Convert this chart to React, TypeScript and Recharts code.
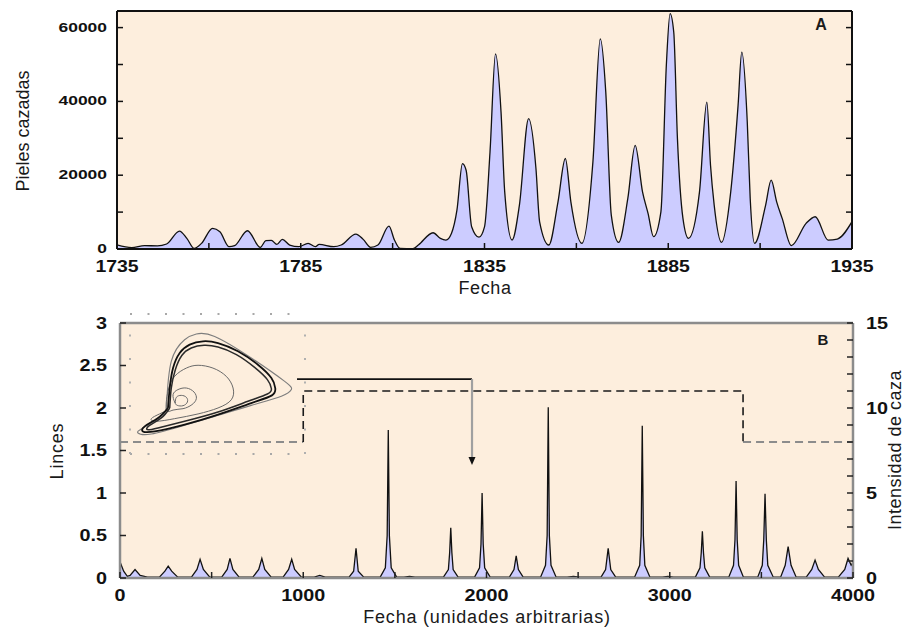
import React from "react";
import {
  ComposedChart,
  LineChart,
  Area,
  Line,
  XAxis,
  YAxis,
  CartesianGrid,
  ReferenceLine,
  ReferenceDot,
} from "recharts";

// ---- Panel A: pieles de lince cazadas (1735-1935) ----
const anios = [
  1735, 1739, 1742.5, 1746, 1748.5, 1752, 1754, 1756, 1758, 1761, 1763, 1765.5,
  1767, 1770.5, 1774, 1775.5, 1777, 1778.5, 1780, 1782, 1784.5, 1787, 1789, 1790,
  1794, 1796, 1800, 1802, 1804, 1806, 1809, 1810.5, 1812, 1815.5, 1817, 1821,
  1823, 1824.5, 1826, 1827.5, 1829, 1830, 1831.5, 1833.5, 1835, 1836.5, 1838,
  1839.5, 1840.5, 1842.5, 1844.5, 1847, 1849, 1850, 1852.5, 1855, 1857, 1858.5,
  1861.5, 1864.5, 1866.5, 1868, 1869.5, 1871.5, 1874, 1876, 1878, 1879.5, 1881,
  1883, 1884.5, 1885.5, 1886.5, 1887.5, 1889, 1890.5, 1893.5, 1895.5, 1896.5,
  1897.5, 1899.5, 1902, 1904, 1905, 1906.5, 1907.3, 1908.5, 1911.5, 1913, 1914.5,
  1916, 1918.5, 1922.5, 1925, 1928.5, 1931, 1935,
];
const pieles = [
  1100, 350, 900, 850, 1350, 4860, 2880, 180, 1530, 5590, 4680, 630,
  900, 4950, 450, 2250, 2340, 1260, 2610, 1080, 630, 1530, 630, 1260,
  630, 1080, 4050, 2610, 450, 1080, 6220, 2430, 180, 100, 1080, 4410,
  2880, 2430, 4230, 10540, 23160, 21350, 6030, 3200, 6000, 26300, 52900,
  37100, 15490, 2430, 11890, 35330, 21810, 7380, 1080, 12790, 24520, 12790,
  1530, 23600, 56950, 42520, 9190, 1800, 13700, 28110, 15490, 9650, 3330,
  10080, 50190, 63800, 58740, 29920, 8300, 2890, 15490, 39820, 22700,
  11890, 1800, 15490, 38920, 53330, 34410, 13700, 1530, 11890, 18650, 12790,
  8300, 900, 6950, 8740, 2430, 2700, 7400,
];
const ticksAnio = [1735, 1760, 1785, 1810, 1835, 1860, 1885, 1910, 1935];
const ticksPieles = [0, 10000, 20000, 30000, 40000, 50000, 60000];

// ---- Panel B: modelo (unidades arbitrarias) ----
const lincesB: [number, number][] = [
  [0, 0.19], [20, 0.08], [40, 0.02], [55, 0.03], [82, 0.1], [110, 0.03], [150, 0.01],
  [215, 0.01], [245, 0.08], [263, 0.14], [282, 0.08], [315, 0.01],
  [390, 0.01], [420, 0.1], [437, 0.22], [455, 0.1], [490, 0.01],
  [555, 0.01], [585, 0.1], [600, 0.23], [616, 0.1], [650, 0.01],
  [725, 0.01], [757, 0.1], [774, 0.23], [790, 0.1], [825, 0.01],
  [890, 0.01], [920, 0.1], [937, 0.22], [953, 0.1], [990, 0.01],
  [1060, 0.01], [1090, 0.03], [1120, 0.01],
  [1250, 0.01], [1275, 0.08], [1288, 0.35], [1300, 0.08], [1330, 0.01],
  [1420, 0.01], [1448, 0.12], [1458, 0.5], [1464, 1.74], [1470, 0.5], [1480, 0.12], [1510, 0.01],
  [1550, 0.01], [1580, 0.02], [1610, 0.01],
  [1765, 0.01], [1792, 0.1], [1799, 0.3], [1805, 0.59], [1811, 0.3], [1818, 0.1], [1845, 0.01],
  [1935, 0.01], [1962, 0.12], [1970, 0.4], [1976, 1.0], [1982, 0.4], [1990, 0.12], [2020, 0.01],
  [2125, 0.01], [2150, 0.1], [2162, 0.26], [2174, 0.1], [2200, 0.01],
  [2295, 0.01], [2322, 0.15], [2331, 0.5], [2337, 2.01], [2343, 0.5], [2352, 0.15], [2380, 0.01],
  [2440, 0.01], [2474, 0.02], [2510, 0.01],
  [2625, 0.01], [2650, 0.1], [2664, 0.35], [2678, 0.1], [2705, 0.01],
  [2808, 0.01], [2836, 0.15], [2844, 0.5], [2850, 1.79], [2856, 0.5], [2864, 0.15], [2892, 0.01],
  [2960, 0.01], [2990, 0.02], [3020, 0.01],
  [3140, 0.01], [3165, 0.12], [3172, 0.3], [3178, 0.55], [3184, 0.3], [3191, 0.12], [3218, 0.01],
  [3322, 0.01], [3348, 0.15], [3356, 0.45], [3362, 1.14], [3368, 0.45], [3376, 0.15], [3402, 0.01],
  [3480, 0.01], [3505, 0.15], [3513, 0.45], [3520, 0.99], [3527, 0.45], [3535, 0.15], [3565, 0.01],
  [3605, 0.01], [3630, 0.15], [3646, 0.37], [3662, 0.15], [3690, 0.01],
  [3745, 0.01], [3775, 0.1], [3793, 0.21], [3811, 0.1], [3845, 0.01],
  [3920, 0.01], [3955, 0.1], [3973, 0.23], [3990, 0.15], [4000, 0.18],
];
// intensidad de caza (eje derecho), escalones
const pasosX = [0, 1000, 1000, 3400, 3400, 4000];
const intensidad = [8, 8, 11, 11, 8, 8];
// flecha que une el recuadro con la serie
const flechaX = [966, 1921, 1921];
const flechaY = [2.34, 2.34, 1.4];
const puntaFlecha = { x: 1921, y: 1.33 };
const ticksFechaB = [0, 500, 1000, 1500, 2000, 2500, 3000, 3500, 4000];
const ticksLinces = [0, 0.5, 1, 1.5, 2, 2.5, 3];
const ticksCaza = [0, 1, 2, 3, 4, 5, 6, 7, 8, 9, 10, 11, 12, 13, 14, 15];

// ---- recuadro: plano de fases (liebres vs linces) ----
const transitorio: [number, number][] = [
  [25.9, 29.1], [26.5, 32.4], [29.3, 33.5], [32.2, 32.4], [32.8, 29.7], [30.3, 27.6], [27.0, 27.8],
  [25.5, 29.7], [24.6, 33.9], [27.4, 36.8], [32.2, 37.7], [36.6, 35.4], [37.9, 31.6], [35.4, 28.2],
  [30.3, 25.9], [24.6, 25.1], [20.8, 25.3],
  [21.7, 35.8], [25.5, 44.4], [32.2, 49.1], [38.9, 50.7], [47.4, 49.1], [55.0, 44.4], [58.9, 37.7],
  [57.9, 31.0], [50.3, 26.3], [38.9, 22.9], [25.5, 20.2], [15.0, 18.7], [12.2, 20.2], [16.9, 22.9],
  [21.7, 25.3],
];
const cicloLimite: [number, number][] = [
  [21.7, 26.3], [22.7, 37.7], [24.6, 49.1], [28.4, 57.7], [34.1, 62.5], [41.7, 64.4], [50.3, 63.4],
  [61.7, 58.7], [73.1, 51.0], [80.8, 43.4], [83.0, 37.7], [81.1, 33.5], [69.3, 29.1], [50.3, 22.5],
  [31.2, 16.8], [14.1, 12.9], [7.4, 12.9], [8.4, 15.8], [16.0, 20.6], [21.7, 26.3],
];
const cicloInterno: [number, number][] = [
  [22.7, 26.3], [23.6, 37.7], [25.9, 48.2], [29.7, 56.4], [35.0, 60.6], [42.3, 62.1], [50.3, 61.1],
  [60.8, 56.8], [71.2, 49.5], [78.5, 42.5], [80.8, 37.3], [78.5, 34.3], [67.4, 30.1], [50.3, 24.0],
  [31.2, 18.7], [16.0, 14.9], [9.9, 13.9], [11.2, 16.4], [17.9, 20.6], [22.7, 26.3],
];
const orbitaExterna: [number, number][] = [
  [20.8, 26.3], [23.6, 53.0], [31.2, 65.3], [37.9, 68.6], [48.4, 67.2], [69.3, 54.9], [88.4, 41.5],
  [92.2, 36.8], [86.5, 33.0], [69.3, 27.8], [50.3, 22.1], [31.2, 16.4], [12.2, 11.4], [4.6, 12.0],
  [7.4, 14.9], [17.9, 21.5], [20.8, 26.3],
];

const FONT = "'Liberation Sans', Arial, Helvetica, sans-serif";
const PEACH = "#fdeedd";
const LAVANDA = "#ccccff";

const dataA = anios.map((x, i) => ({ x, v: pieles[i] }));
const dataB = lincesB.map(([x, y]) => ({ x, y }));
const pasos = pasosX.map((x, i) => ({ x, v: intensidad[i] }));
const pasosGris = [pasos[0], pasos[1], { x: pasos[1].x, v: null }, pasos[4], pasos[5]];
const pasosNegro = pasos.slice(1, 5);
const flecha = flechaX.map((x, i) => ({ x, y: flechaY[i] }));
const pares = (arr: [number, number][]) => arr.map(([x, y]) => ({ x, y }));

const textWidth = (s: string, w: number) =>
  [...s].reduce((acc, ch) => acc + (ch === "." ? w * 0.5 : w), 0);

type TickCfg = {
  side: "left" | "right" | "top" | "bottom";
  len: number;
  color: string;
  label?: (v: number) => string | null;
  gap?: number;
  size?: number;
  charW?: number;
};

const makeTick = (cfg: TickCfg) => (props: any) => {
  const { x, y, payload } = props;
  const { side, len, color } = cfg;
  let line = { x1: x, y1: y, x2: x, y2: y - len };
  if (side === "left") line = { x1: x, y1: y, x2: x + len, y2: y };
  if (side === "right") line = { x1: x, y1: y, x2: x - len, y2: y };
  if (side === "top") line = { x1: x, y1: y, x2: x, y2: y + len };
  const txt = cfg.label ? cfg.label(payload.value) : null;
  const gap = cfg.gap ?? 0;
  let tx = x;
  let ty = y + gap;
  let anchor: "start" | "middle" | "end" = "middle";
  if (side === "left") {
    tx = x - gap;
    ty = y;
    anchor = "end";
  } else if (side === "right") {
    tx = x + gap;
    ty = y;
    anchor = "start";
  }
  return (
    <g>
      <line {...line} stroke={color} strokeWidth={1.5} />
      {txt !== null && (
        <text
          x={tx}
          y={ty}
          textAnchor={anchor}
          dominantBaseline="central"
          fontFamily={FONT}
          fontWeight="bold"
          fontSize={cfg.size}
          fill="#111"
          textLength={textWidth(txt, cfg.charW ?? 10)}
          lengthAdjust="spacingAndGlyphs"
        >
          {txt}
        </text>
      )}
    </g>
  );
};

const frameA = { stroke: "#111", strokeWidth: 2 };
const frameB = { stroke: "#8c8c8c", strokeWidth: 2.5 };

const titleStyle: React.CSSProperties = {
  position: "absolute",
  fontFamily: FONT,
  fontSize: 18,
  color: "#1a1a1a",
  whiteSpace: "nowrap",
  lineHeight: 1,
  transform: "translate(-50%, -50%)",
};

export default function App() {
  return (
    <div
      style={{
        position: "absolute",
        left: 0,
        top: 0,
        width: 915,
        height: 628,
        background: "#fff",
        overflow: "hidden",
      }}
    >
      {/* Panel A */}
      <div style={{ position: "absolute", left: 0, top: 0 }}>
        <ComposedChart width={915} height={300} margin={{ top: 10, right: 62, bottom: 21, left: 57 }}>
          <CartesianGrid horizontal={false} vertical={false} fill={PEACH} />
          <XAxis
            dataKey="x"
            type="number"
            domain={[1735, 1935]}
            ticks={ticksAnio}
            interval={0}
            height={30}
            tickSize={0}
            tickMargin={0}
            tickLine={false}
            axisLine={frameA}
            allowDataOverflow
            tick={makeTick({
              side: "bottom",
              len: 6,
              color: "#111",
              label: (v) => ((v - 1735) % 50 === 0 ? String(v) : null),
              gap: 17,
              size: 16,
              charW: 10.8,
            })}
          />
          <XAxis
            xAxisId="top"
            orientation="top"
            type="number"
            domain={[1735, 1935]}
            ticks={ticksAnio}
            interval={0}
            height={1}
            tickSize={0}
            tickMargin={0}
            tickLine={false}
            axisLine={frameA}
            allowDataOverflow
            tick={makeTick({ side: "top", len: 5, color: "#111" })}
          />
          <YAxis
            type="number"
            domain={[0, 64500]}
            ticks={ticksPieles}
            interval={0}
            width={60}
            tickSize={0}
            tickMargin={0}
            tickLine={false}
            axisLine={frameA}
            allowDataOverflow
            tick={makeTick({
              side: "left",
              len: 6,
              color: "#111",
              label: (v) => (v % 20000 === 0 ? String(v) : null),
              gap: 10,
              size: 12,
              charW: 9.7,
            })}
          />
          <YAxis
            yAxisId="right"
            orientation="right"
            type="number"
            domain={[0, 64500]}
            ticks={ticksPieles}
            interval={0}
            width={1}
            tickSize={0}
            tickMargin={0}
            tickLine={false}
            axisLine={frameA}
            allowDataOverflow
            tick={makeTick({ side: "right", len: 6, color: "#111" })}
          />
          <Area
            data={dataA}
            dataKey="v"
            type="monotone"
            stroke="#111"
            strokeWidth={1.3}
            fill={LAVANDA}
            fillOpacity={1}
            dot={false}
            activeDot={false}
            isAnimationActive={false}
          />
        </ComposedChart>
      </div>

      {/* Panel B */}
      <div style={{ position: "absolute", left: 0, top: 300 }}>
        <ComposedChart width={915} height={328} margin={{ top: 22, right: 61, bottom: 20, left: 60 }}>
          <CartesianGrid horizontal={false} vertical={false} fill={PEACH} />
          <XAxis
            dataKey="x"
            type="number"
            domain={[0, 4000]}
            ticks={ticksFechaB}
            interval={0}
            height={30}
            tickSize={0}
            tickMargin={0}
            tickLine={false}
            axisLine={frameB}
            allowDataOverflow
            tick={makeTick({
              side: "bottom",
              len: 6,
              color: "#222",
              label: (v) => (v % 1000 === 0 ? String(v) : null),
              gap: 17,
              size: 17,
              charW: 11,
            })}
          />
          <XAxis
            xAxisId="top"
            orientation="top"
            type="number"
            domain={[0, 4000]}
            ticks={ticksFechaB}
            interval={0}
            height={1}
            tickSize={0}
            tickMargin={0}
            tickLine={false}
            axisLine={frameB}
            allowDataOverflow
            tick={makeTick({ side: "top", len: 6, color: "#222" })}
          />
          <YAxis
            type="number"
            domain={[0, 3]}
            ticks={ticksLinces}
            interval={0}
            width={60}
            tickSize={0}
            tickMargin={0}
            tickLine={false}
            axisLine={frameB}
            allowDataOverflow
            tick={makeTick({
              side: "left",
              len: 6,
              color: "#222",
              label: (v) => String(v),
              gap: 13,
              size: 16,
              charW: 11,
            })}
          />
          <YAxis
            yAxisId="r"
            orientation="right"
            type="number"
            domain={[0, 15]}
            ticks={ticksCaza}
            interval={0}
            width={1}
            tickSize={0}
            tickMargin={0}
            tickLine={false}
            axisLine={frameB}
            allowDataOverflow
            tick={makeTick({
              side: "right",
              len: 6,
              color: "#222",
              label: (v) => (v % 5 === 0 ? String(v) : null),
              gap: 13,
              size: 16,
              charW: 11,
            })}
          />
          <Area
            data={dataB}
            dataKey="y"
            type="linear"
            stroke="#111"
            strokeWidth={1.3}
            fill={LAVANDA}
            fillOpacity={1}
            dot={false}
            activeDot={false}
            isAnimationActive={false}
          />
          <Line
            data={pasosGris}
            dataKey="v"
            yAxisId="r"
            type="linear"
            stroke="#8c8c8c"
            strokeWidth={1.8}
            strokeDasharray="8 5"
            dot={false}
            activeDot={false}
            isAnimationActive={false}
          />
          <Line
            data={pasosNegro}
            dataKey="v"
            yAxisId="r"
            type="linear"
            stroke="#1a1a1a"
            strokeWidth={1.6}
            strokeDasharray="8 5"
            dot={false}
            activeDot={false}
            isAnimationActive={false}
          />
          <Line
            data={flecha.slice(0, 2)}
            dataKey="y"
            type="linear"
            stroke="#111"
            strokeWidth={1.6}
            dot={false}
            activeDot={false}
            isAnimationActive={false}
          />
          <Line
            data={flecha.slice(1)}
            dataKey="y"
            type="linear"
            stroke="#a0a0a0"
            strokeWidth={2.2}
            dot={false}
            activeDot={false}
            isAnimationActive={false}
          />
          <ReferenceDot
            x={puntaFlecha.x}
            y={puntaFlecha.y}
            r={4}
            shape={(p: any) => (
              <path
                d={`M${p.cx - 3.5},${p.cy - 8} L${p.cx + 3.5},${p.cy - 8} L${p.cx},${p.cy} Z`}
                fill="#111"
              />
            )}
          />
        </ComposedChart>
      </div>

      {/* Recuadro: plano de fases */}
      <div style={{ position: "absolute", left: 126, top: 310 }}>
        <LineChart width={183} height={148} margin={{ top: 4, right: 4, bottom: 4, left: 4 }}>
          <XAxis type="number" dataKey="x" domain={[0, 100]} hide allowDataOverflow />
          <YAxis type="number" domain={[0, 80]} hide allowDataOverflow />
          <ReferenceLine y={80} stroke="#a8a8a8" strokeWidth={2} strokeDasharray="2 15.5" />
          <ReferenceLine y={0} stroke="#a8a8a8" strokeWidth={2} strokeDasharray="2 15.5" />
          <ReferenceLine x={0} stroke="#b0b0b0" strokeWidth={2} strokeDasharray="2 21.5" />
          <ReferenceLine x={100} stroke="#b0b0b0" strokeWidth={2} strokeDasharray="2 21.5" />
          <Line data={pares(orbitaExterna)} dataKey="y" type="natural" stroke="#7d7d7d" strokeWidth={1.1} dot={false} activeDot={false} isAnimationActive={false} />
          <Line data={pares(transitorio)} dataKey="y" type="natural" stroke="#6a6a6a" strokeWidth={1} dot={false} activeDot={false} isAnimationActive={false} />
          <Line data={pares(cicloInterno)} dataKey="y" type="natural" stroke="#2a2a2a" strokeWidth={1.5} dot={false} activeDot={false} isAnimationActive={false} />
          <Line data={pares(cicloLimite)} dataKey="y" type="natural" stroke="#111" strokeWidth={1.8} dot={false} activeDot={false} isAnimationActive={false} />
        </LineChart>
      </div>

      {/* Títulos */}
      <div style={{ ...titleStyle, left: 23, top: 131, transform: "translate(-50%, -50%) rotate(-90deg)" }}>
        Pieles cazadas
      </div>
      <div style={{ ...titleStyle, left: 485, top: 288, letterSpacing: 0.6 }}>Fecha</div>
      <div style={{ ...titleStyle, left: 821, top: 25, fontWeight: "bold", fontSize: 16 }}>A</div>
      <div style={{ ...titleStyle, left: 57, top: 451, letterSpacing: 0.8, transform: "translate(-50%, -50%) rotate(-90deg)" }}>
        Linces
      </div>
      <div style={{ ...titleStyle, left: 895, top: 450, letterSpacing: 0.5, transform: "translate(-50%, -50%) rotate(-90deg)" }}>
        Intensidad de caza
      </div>
      <div style={{ ...titleStyle, left: 487, top: 617, letterSpacing: 0.8 }}>Fecha (unidades arbitrarias)</div>
      <div style={{ ...titleStyle, left: 823, top: 339, fontWeight: "bold", fontSize: 15 }}>B</div>
    </div>
  );
}
